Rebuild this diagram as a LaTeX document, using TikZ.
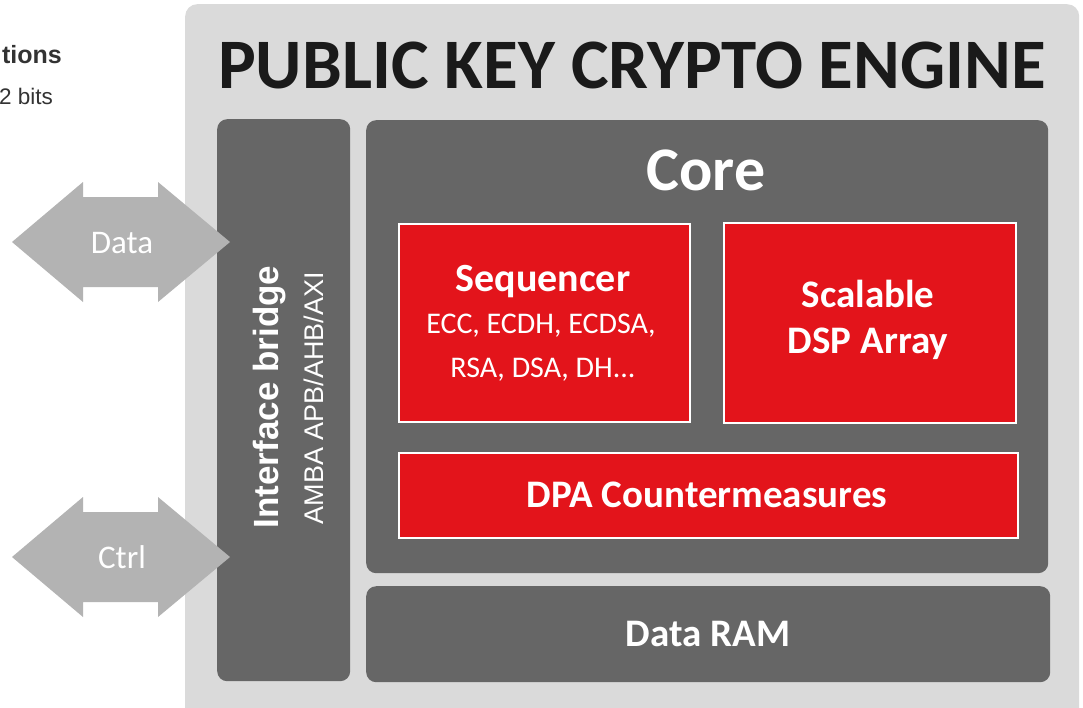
\documentclass[tikz,border=0pt]{standalone}
\usepackage{fontspec}
\setmainfont{Carlito}
\newfontfamily\robofont{Liberation Sans}
\usetikzlibrary{positioning,calc}
\definecolor{shell}{HTML}{DADADA}
\definecolor{slate}{HTML}{666666}
\definecolor{engred}{HTML}{E3141B}
\definecolor{pipe}{HTML}{B3B3B3}
\definecolor{ink}{HTML}{1A1A1A}
\definecolor{note}{HTML}{333333}
\newcommand{\fsz}[1]{\fontsize{#1}{#1}\selectfont}
\tikzset{
  block/.style={fill=slate, rounded corners=10pt, inner sep=0pt, anchor=north west},
  redbox/.style={fill=engred, draw=white, line width=2pt, inner sep=0pt, anchor=north west},
  label/.style={text=white, inner sep=0pt, anchor=base},
}
\begin{document}
\begin{tikzpicture}[x=1pt, y=-1pt]
\useasboundingbox (0,0) rectangle (1083,707);
% side notes at the page edge
\node[anchor=base east, text=note, inner sep=0pt] (capnote) at (62,63) {\robofont\bfseries\fsz{25}tions};
\node[anchor=base west, text=note, inner sep=0pt] (bitnote) at (-1,104) {\robofont\fsz{22.5}2 bits};
% engine shell
\node[block, fill=shell, rounded corners=12pt, minimum width=894, minimum height=760] (engine) at (185,4) {};
\node[anchor=base, text=ink, inner sep=0pt] (title) at (632,88) {\fsz{71}\bfseries PUBLIC KEY CRYPTO ENGINE};
% inner blocks
\node[block, minimum width=133, minimum height=562] (bridge) at (217,119) {};
\node[block, minimum width=682, minimum height=453] (core) at (366,120) {};
\node[block, minimum width=684, minimum height=96] (ram) at (366,586) {};
\node[redbox, minimum width=291, minimum height=198] (seq) at (398,223) {};
\node[redbox, minimum width=292, minimum height=200] (dsp) at (723,222) {};
\node[redbox, minimum width=619, minimum height=85] (dpa) at (398,452) {};
% labels
\node[label] (corelbl) at (706,190) {\fsz{62}\bfseries Core};
\node[label] (seqlbl) at (543,291) {\fsz{40}\bfseries Sequencer};
\node[label] (seqalg) at (541,333) {\fsz{30}ECC, ECDH, ECDSA,};
\node[label] (seqalgb) at (543,377) {\fsz{30}RSA, DSA, DH...};
\node[label] (dsplbl) at (868,307) {\fsz{39}\bfseries Scalable};
\node[label] (dsplblb) at (868,353) {\fsz{39}\bfseries DSP Array};
\node[label] (dpalbl) at (707,507) {\fsz{39}\bfseries DPA Countermeasures};
\node[label] (ramlbl) at (708,646) {\fsz{39}\bfseries Data RAM};
\node[label, rotate=90] (bridgelbl) at (278,397) {\robofont\bfseries\fsz{35}Interface bridge};
\node[label, rotate=90] (buslbl) at (323,398) {\robofont\fsz{27}AMBA APB/AHB/AXI};
% bus arrows
\foreach \name/\yc in {Data/242, Ctrl/557}{
  \fill[pipe] (12,\yc) -- (83,\yc-60) -- (83,\yc-45) -- (158,\yc-45) -- (158,\yc-60)
    -- (230,\yc) -- (158,\yc+60) -- (158,\yc+45) -- (83,\yc+45) -- (83,\yc+60) -- cycle;
  \node[label] (arr-\name) at (122,\yc+11) {\fsz{33}\name};
}
\end{tikzpicture}
\end{document}
